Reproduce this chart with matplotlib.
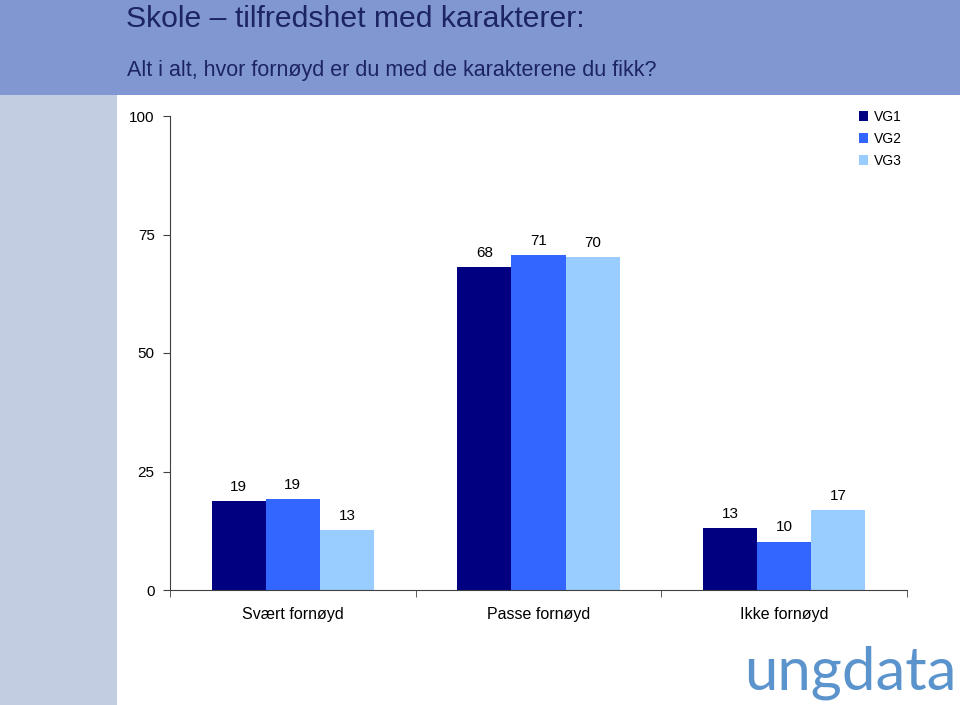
import numpy as np
import matplotlib.pyplot as plt
from matplotlib.patches import Rectangle

# Data
categories = ['Svært fornøyd', 'Passe fornøyd', 'Ikke fornøyd']
series = ['VG1', 'VG2', 'VG3']
vg1 = [18.8, 68.1, 13.1]
vg2 = [19.2, 70.7, 10.2]
vg3 = [12.7, 70.3, 16.9]
yticks = [0, 25, 50, 75, 100]

colors = ['#000080', '#3366ff', '#99ccff']

fig = plt.figure(figsize=(9.6, 7.05), dpi=100)

# background bands
fig.patches.append(Rectangle((0, 1 - 95 / 705), 1, 95 / 705, transform=fig.transFigure,
                             facecolor='#8097d2', edgecolor='none', zorder=0))
fig.patches.append(Rectangle((0, 0), 117 / 960, 1 - 95 / 705, transform=fig.transFigure,
                             facecolor='#c3cde1', edgecolor='none', zorder=0))

fig.text(126 / 960, 1 - 27 / 705, 'Skole – tilfredshet med karakterer:', fontsize=21.7,
         color='#1c2462', family='Liberation Sans', va='baseline')
fig.text(127 / 960, 1 - 76 / 705, 'Alt i alt, hvor fornøyd er du med de karakterene du fikk?',
         fontsize=15.5, color='#1c2462', family='Liberation Sans', va='baseline')

ax = fig.add_axes([170 / 960, 1 - 590 / 705, (907 - 170) / 960, (590 - 116) / 705])

x = np.arange(len(categories))
w = 0.22
for i, (vals, name) in enumerate(zip([vg1, vg2, vg3], series)):
    bars = ax.bar(x + (i - 1) * w, vals, w, color=colors[i], label=name, zorder=2)
    for b, v in zip(bars, vals):
        ax.text(b.get_x() + b.get_width() / 2, v + 3.0, '%.0f' % v, ha='center', va='center',
                fontsize=11, family='Liberation Sans', color='black')

ax.set_xlim(-0.5, 2.5)
ax.set_ylim(0, 100)
ax.set_yticks(yticks)
ax.set_yticklabels([str(t) for t in yticks], family='Liberation Sans', fontsize=11)
ax.set_xticks(x)
ax.set_xticklabels(categories, family='Liberation Sans', fontsize=11.5)
ax.set_xticks([-0.5, 0.5, 1.5, 2.5], minor=True)
ax.tick_params(axis='x', which='major', length=0, pad=12)
ax.tick_params(axis='x', which='minor', length=5, direction='out', color='#404040')
ax.tick_params(axis='y', length=5, direction='out', color='#404040', pad=6)
for s in ['top', 'right']:
    ax.spines[s].set_visible(False)
for s in ['left', 'bottom']:
    ax.spines[s].set_color('#404040')

leg = ax.legend(loc='upper right', bbox_to_anchor=(1.01, 1.04), frameon=False, handlelength=0.7,
                handleheight=0.7, handletextpad=0.4, labelspacing=0.6,
                prop={'family': 'Liberation Sans', 'size': 10})

fig.text(957 / 960, 1 - 690 / 705, 'ungdata', fontsize=43, color='#5b94cd',
         family='Lato', weight='normal', ha='right', va='baseline')

fig.savefig('out.png', dpi=100)
